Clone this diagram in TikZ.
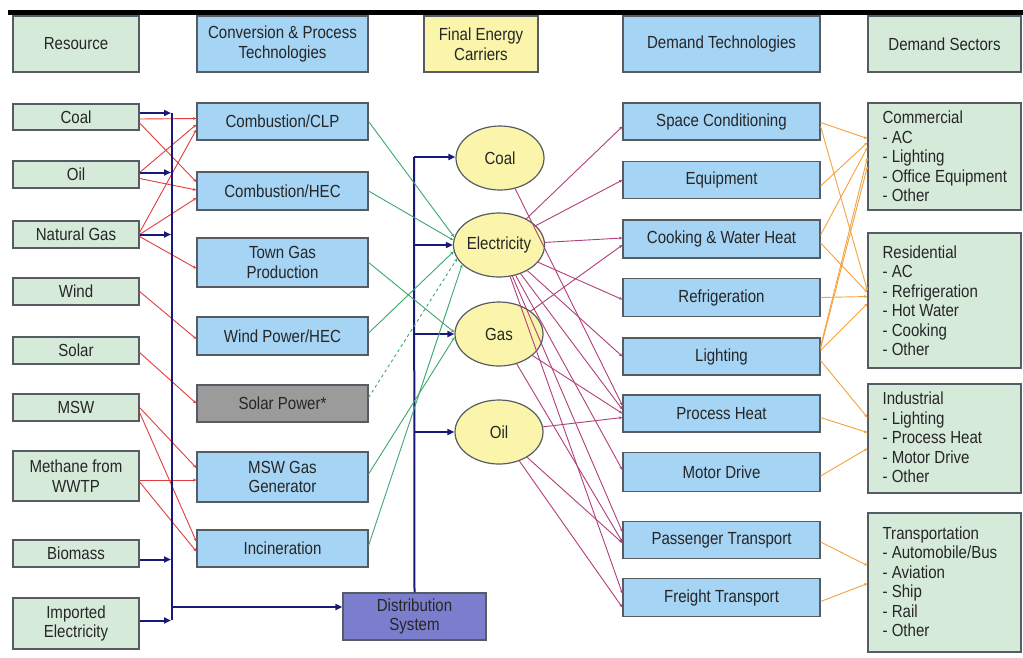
\documentclass[tikz,border=0pt]{standalone}
\usepackage{fontspec}
\setmainfont{Liberation Sans}[FakeStretch=0.86]
\usetikzlibrary{arrows.meta,shapes.geometric}
\definecolor{resfill}{RGB}{214,234,218}
\definecolor{convfill}{RGB}{165,212,245}
\definecolor{yelfill}{RGB}{250,245,170}
\definecolor{grayfill}{RGB}{155,155,155}
\definecolor{distfill}{RGB}{122,126,205}
\definecolor{bordc}{RGB}{85,92,100}
\definecolor{navyc}{RGB}{25,25,120}
\definecolor{redc}{RGB}{226,62,62}
\definecolor{greenc}{RGB}{60,168,110}
\definecolor{purc}{RGB}{178,62,122}
\definecolor{orc}{RGB}{245,162,62}
\newcommand\fs{\fontsize{17.5}{19.5}\selectfont}
\tikzset{
  box/.style={draw=bordc, line width=1.2pt, inner sep=2pt, align=center, font=\fs, text=black!85},
  resbox/.style={box, fill=resfill, minimum width=126pt},
  convbox/.style={box, fill=convfill, minimum width=171pt},
  dtbox/.style={box, fill=convfill, minimum width=197pt},
  secbox/.style={box, fill=resfill, minimum width=153pt},
  carrier/.style={box, ellipse, fill=yelfill, minimum width=88pt, minimum height=64pt, inner sep=0pt},
  sectxt/.style={align=left, font=\fs, text=black!85, inner sep=0pt, anchor=west},
  navy/.style={draw=navyc, line width=2pt, -{Triangle[length=7pt,width=6pt]}},
  navyline/.style={draw=navyc, line width=2pt},
  redl/.style={draw=redc, line width=0.9pt, -{Stealth[length=3.5pt,width=3pt]}},
  greenl/.style={draw=greenc, line width=0.9pt, -{Stealth[length=3.5pt,width=3pt]}},
  purl/.style={draw=purc, line width=0.9pt, -{Stealth[length=3.5pt,width=3pt]}},
  orl/.style={draw=orc, line width=0.9pt, -{Stealth[length=3.5pt,width=3pt]}}
}
\begin{document}
\begin{tikzpicture}[x=1pt,y=-1pt]
\useasboundingbox[fill=white] (0,0) rectangle (1023,657);
\draw[line width=5pt] (8,12) -- (1023,12);
% headers
\node[resbox, minimum height=56pt] (hres) at (76,44) {Resource};
\node[convbox, minimum height=56pt] (hconv) at (282.5,44) {Conversion \& Process\\Technologies};
\node[box, fill=yelfill, minimum width=114pt, minimum height=56pt] (hfec) at (481,44) {Final Energy\\Carriers};
\node[dtbox, minimum height=56pt] (hdt) at (721.5,44) {Demand Technologies};
\node[secbox, minimum height=56pt] (hds) at (944.5,44) {Demand Sectors};
% resources
\node[resbox, minimum height=26pt] (coal) at (76,117) {Coal};
\node[resbox, minimum height=27pt] (oil) at (76,174.5) {Oil};
\node[resbox, minimum height=27pt] (ng) at (76,234.5) {Natural Gas};
\node[resbox, minimum height=27pt] (wind) at (76,291.5) {Wind};
\node[resbox, minimum height=27pt] (solar) at (76,350.5) {Solar};
\node[resbox, minimum height=27pt] (msw) at (76,407.5) {MSW};
\node[resbox, minimum height=50pt] (meth) at (76,476) {Methane from\\WWTP};
\node[resbox, minimum height=27pt] (bio) at (76,553.5) {Biomass};
\node[resbox, minimum height=51pt] (imp) at (76,623.5) {Imported\\Electricity};
% conversion
\node[convbox, minimum height=37pt] (clp) at (282.5,121.5) {Combustion/CLP};
\node[convbox, minimum height=38pt] (hec) at (282.5,191) {Combustion/HEC};
\node[convbox, minimum height=49pt] (town) at (282.5,262.5) {Town Gas\\Production};
\node[convbox, minimum height=38pt] (windp) at (282.5,336) {Wind Power/HEC};
\node[convbox, fill=grayfill, minimum height=37pt] (solarp) at (282.5,403.5) {Solar Power*};
\node[convbox, minimum height=50pt] (mswg) at (282.5,477) {MSW Gas\\Generator};
\node[convbox, minimum height=37pt] (incin) at (282.5,548.5) {Incineration};
\node[box, fill=distfill, minimum width=143pt, minimum height=47pt] (dist) at (414.5,616.5) {Distribution\\System};
% carriers
\node[carrier] (coalE) at (500,158) {Coal};
\node[carrier] (elec) at (499,245) {Electricity};
\node[carrier] (gas) at (499,334) {Gas};
\node[carrier] (oilE) at (499,432) {Oil};
% demand technologies
\node[dtbox, minimum height=37pt] (sc) at (721.5,121.5) {Space Conditioning};
\node[dtbox, minimum height=37pt] (eq) at (721.5,180) {Equipment};
\node[dtbox, minimum height=38pt] (cw) at (721.5,239) {Cooking \& Water Heat};
\node[dtbox, minimum height=38pt] (rf) at (721.5,297.5) {Refrigeration};
\node[dtbox, minimum height=37pt] (lt) at (721.5,356.5) {Lighting};
\node[dtbox, minimum height=37pt] (ph) at (721.5,413.5) {Process Heat};
\node[dtbox, minimum height=39pt] (md) at (721.5,472) {Motor Drive};
\node[dtbox, minimum height=37pt] (pt) at (721.5,540) {Passenger Transport};
\node[dtbox, minimum height=38pt] (ft) at (721.5,597.5) {Freight Transport};
% sectors
\node[secbox, minimum height=107pt] (com) at (944.5,156.5) {};
\node[secbox, minimum height=135pt] (res) at (944.5,300.5) {};
\node[secbox, minimum height=109pt] (ind) at (944.5,438.5) {};
\node[secbox, minimum height=139pt] (trn) at (944.5,582.5) {};
\node[sectxt] (comt) at ([xshift=15pt]com.west) {Commercial\\- AC\\- Lighting\\- Office Equipment\\- Other};
\node[sectxt] (rest) at ([xshift=15pt]res.west) {Residential\\- AC\\- Refrigeration\\- Hot Water\\- Cooking\\- Other};
\node[sectxt] (indt) at ([xshift=15pt,yshift=1pt]ind.west) {Industrial\\- Lighting\\- Process Heat\\- Motor Drive\\- Other};
\node[sectxt] (trnt) at ([xshift=15pt,yshift=1pt]trn.west) {Transportation\\- Automobile/Bus\\- Aviation\\- Ship\\- Rail\\- Other};
% red connectors
\draw[redl] ([yshift=-2pt]coal.east) -- ([yshift=3pt]clp.west);
\draw[redl] ([yshift=-6pt]coal.east) -- ([yshift=9pt]hec.west);
\draw[redl] ([yshift=2pt]oil.east) -- ([yshift=-3pt]clp.west);
\draw[redl] ([yshift=-4pt]oil.east) -- ([yshift=1pt]hec.west);
\draw[redl] ([yshift=2pt]ng.east) -- ([yshift=-8pt]clp.west);
\draw[redl] (ng.east) -- ([yshift=-7pt]hec.west);
\draw[redl] ([yshift=-2pt]ng.east) -- ([yshift=-6pt]town.west);
\draw[redl] (wind.east) -- ([yshift=-3pt]windp.west);
\draw[redl] ([yshift=-2pt]solar.east) -- (solarp.west);
\draw[redl] (msw.east) -- ([yshift=9pt]mswg.west);
\draw[redl] ([yshift=-5pt]msw.east) -- ([yshift=7pt]incin.west);
\draw[redl] ([yshift=-4pt]meth.east) -- ([yshift=-3pt]mswg.west);
\draw[redl] ([yshift=-6pt]meth.east) -- ([yshift=-3pt]incin.west);
% navy bus (resources)
\coordinate (busT) at (172,113);
\coordinate (busB) at (172,620);
\coordinate (busD) at (172,607);
\draw[navyline] (busT) -- (busB);
\draw[navy] ([yshift=4pt]coal.east) -- ([yshift=4pt,xshift=-1pt]coal.east -| busT);
\draw[navy] ([yshift=2pt]oil.east) -- ([yshift=2pt,xshift=-1pt]oil.east -| busT);
\draw[navy] (ng.east) -- ([xshift=-1pt]ng.east -| busT);
\draw[navy] ([yshift=-6pt]bio.east) -- ([yshift=-6pt,xshift=-1pt]bio.east -| busT);
\draw[navy] ([yshift=3pt]imp.east) -- ([yshift=3pt,xshift=-1pt]imp.east -| busT);
\draw[navy] (busD) -- (busD -| dist.west);
% navy bus (distribution)
\coordinate (dbusT) at (414,157);
\draw[navyline] (dist.north) -- (dbusT);
\draw[navy] (dbusT) -- (dbusT -| coalE.west);
\draw[navy] (elec.west -| dbusT) -- (elec.west);
\draw[navy] (gas.west -| dbusT) -- (gas.west);
\draw[navy] (oilE.west -| dbusT) -- (oilE.west);
% green connectors
\draw[greenl] (clp.east) -- (elec.170);
\draw[greenl] (hec.east) -- (elec.174);
\draw[greenl] ([yshift=3pt]windp.east) -- (elec.188);
\draw[greenl, dashed] ([yshift=6pt]solarp.east) -- (elec.198);
\draw[greenl] ([yshift=3pt]incin.east) -- (elec.208);
\draw[greenl] (town.east) -- (gas.178);
\draw[greenl] ([yshift=3pt]mswg.east) -- (gas.184);
% purple connectors
\draw[purl] (elec) -- ([yshift=-5pt]sc.west);
\draw[purl] (elec) -- (eq.west);
\draw[purl] (elec) -- ([yshift=1pt]cw.west);
\draw[purl] (elec) -- ([yshift=-2pt]rf.west);
\draw[purl] (elec) -- (lt.west);
\draw[purl] (elec) -- ([yshift=4pt]ph.west);
\draw[purl] (elec) -- ([yshift=2pt]md.west);
\draw[purl] (elec) -- ([yshift=8pt]pt.west);
\draw[purl] (elec) -- ([yshift=4pt]ft.west);
\draw[purl] (coalE) -- ([yshift=8pt]ph.west);
\draw[purl] (gas) -- ([yshift=-6pt]cw.west);
\draw[purl] (gas) -- (ph.west);
\draw[purl] (gas) -- ([yshift=-2pt]pt.west);
\draw[purl] (oilE) -- ([yshift=-4pt]ph.west);
\draw[purl] (oilE) -- ([yshift=-3pt]pt.west);
\draw[purl] (oilE) -- ([yshift=-10pt]ft.west);
% orange connectors
\draw[orl] ([yshift=-1pt]sc.east) -- ([yshift=18pt]com.west);
\draw[orl] ([yshift=-5pt]sc.east) -- ([yshift=10pt]res.west);
\draw[orl] ([yshift=-6pt]eq.east) -- ([yshift=14pt]com.west);
\draw[orl] ([yshift=4pt]cw.east) -- ([yshift=9pt]com.west);
\draw[orl] ([yshift=-4pt]cw.east) -- ([yshift=8pt]res.west);
\draw[orl] (rf.east) -- ([yshift=4pt]res.west);
\draw[orl] ([yshift=10pt]lt.east) -- ([yshift=-1pt]com.west);
\draw[orl] ([yshift=8pt]lt.east) -- ([yshift=-10pt]com.west);
\draw[orl] ([yshift=6pt]lt.east) -- ([yshift=-3pt]res.west);
\draw[orl] ([yshift=-4pt]lt.east) -- ([yshift=21pt]ind.west);
\draw[orl] ([yshift=-4pt]ph.east) -- ([yshift=6pt]ind.west);
\draw[orl] ([yshift=-4pt]md.east) -- ([yshift=-10pt]ind.west);
\draw[orl] ([yshift=-2pt]pt.east) -- ([yshift=17pt]trn.west);
\draw[orl] ([yshift=-4pt]ft.east) -- ([yshift=-1pt]trn.west);
\end{tikzpicture}
\end{document}
